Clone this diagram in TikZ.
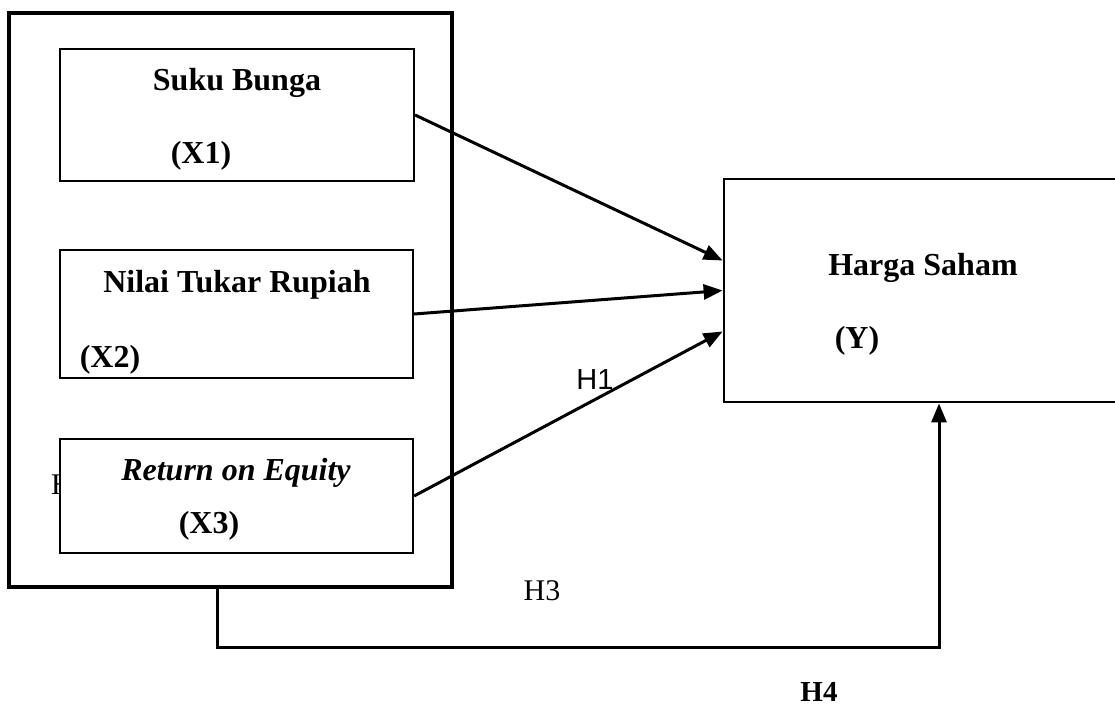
\documentclass[tikz,border=0pt]{standalone}
\usepackage{fontspec}
\setmainfont{Liberation Serif}
\newfontfamily\hsans{Liberation Sans}
\usetikzlibrary{arrows.meta}
\pgfdeclarelayer{edgelayer}
\pgfdeclarelayer{nodelayer}
\pgfsetlayers{edgelayer,nodelayer,main}
\tikzstyle{varbox}=[rectangle,draw=black,fill=white,line width=2.2pt,inner sep=0pt]
\tikzstyle{outerbox}=[rectangle,draw=black,line width=3.5pt,inner sep=0pt]
\tikzstyle{vartext}=[inner sep=0pt,anchor=base,font=\fontsize{32}{38}\selectfont\bfseries]
\tikzstyle{hyptext}=[inner sep=0pt,anchor=base,font=\fontsize{30}{36}\selectfont]
\tikzstyle{link}=[line width=3pt,-{Triangle[length=19pt,width=15pt]}]

\begin{document}
\begin{tikzpicture}[x=1pt,y=-1pt]
    \useasboundingbox (0, 0) rectangle (1115, 709);
        \begin{pgfonlayer}{nodelayer}
            \node [style = outerbox, minimum width=443pt, minimum height=574pt] (outer) at (230.5, 300) {};
            \node [style = hyptext, anchor=base west] (hidden) at (51, 494) {H};
            \node [style = varbox, minimum width=354pt, minimum height=132pt] (x1) at (237, 115) {};
            \node [style = varbox, minimum width=353pt, minimum height=128pt] (x2) at (236.5, 314) {};
            \node [style = varbox, minimum width=353pt, minimum height=114pt] (x3) at (236.5, 496) {};
            \node [style = varbox, line width=2.8pt, minimum width=401pt, minimum height=223pt] (y) at (924.5, 290.5) {};

            \node [style = vartext] (x1name) at (237, 90) {Suku Bunga};
            \node [style = vartext] (x1code) at (201, 163) {(X1)};
            \node [style = vartext] (x2name) at (237, 292) {Nilai Tukar Rupiah};
            \node [style = vartext] (x2code) at (110, 367) {(X2)};
            \node [style = vartext, font=\fontsize{32}{38}\selectfont\bfseries\itshape] (x3name) at (236, 480) {Return on Equity};
            \node [style = vartext] (x3code) at (209, 533) {(X3)};
            \node [style = vartext] (yname) at (923, 275) {Harga Saham};
            \node [style = vartext] (ycode) at (857, 348) {(Y)};

            \node [style = hyptext, font=\fontsize{29}{35}\selectfont\hsans] (h1) at (595, 389) {H1};
            \node [style = hyptext] (h3) at (542, 600) {H3};
            \node [style = hyptext, font=\fontsize{29}{35}\selectfont\bfseries] (h4) at (819, 701) {H4};
        \end{pgfonlayer}

        \begin{pgfonlayer}{edgelayer}
            \coordinate (drop) at (217, 647);
            \coordinate (turn) at (939, 647);
            \draw [style = link] (x1.east) to ([yshift=30pt]y.west);
            \draw [style = link] (x2.east) to (y.west);
            \draw [style = link] (x3.east) to ([yshift=-41pt]y.west);
            \draw [style = link] (drop |- outer.south) -- (drop) -- (turn) -- (turn |- y.south);
        \end{pgfonlayer}
    \end{tikzpicture}
\end{document}
